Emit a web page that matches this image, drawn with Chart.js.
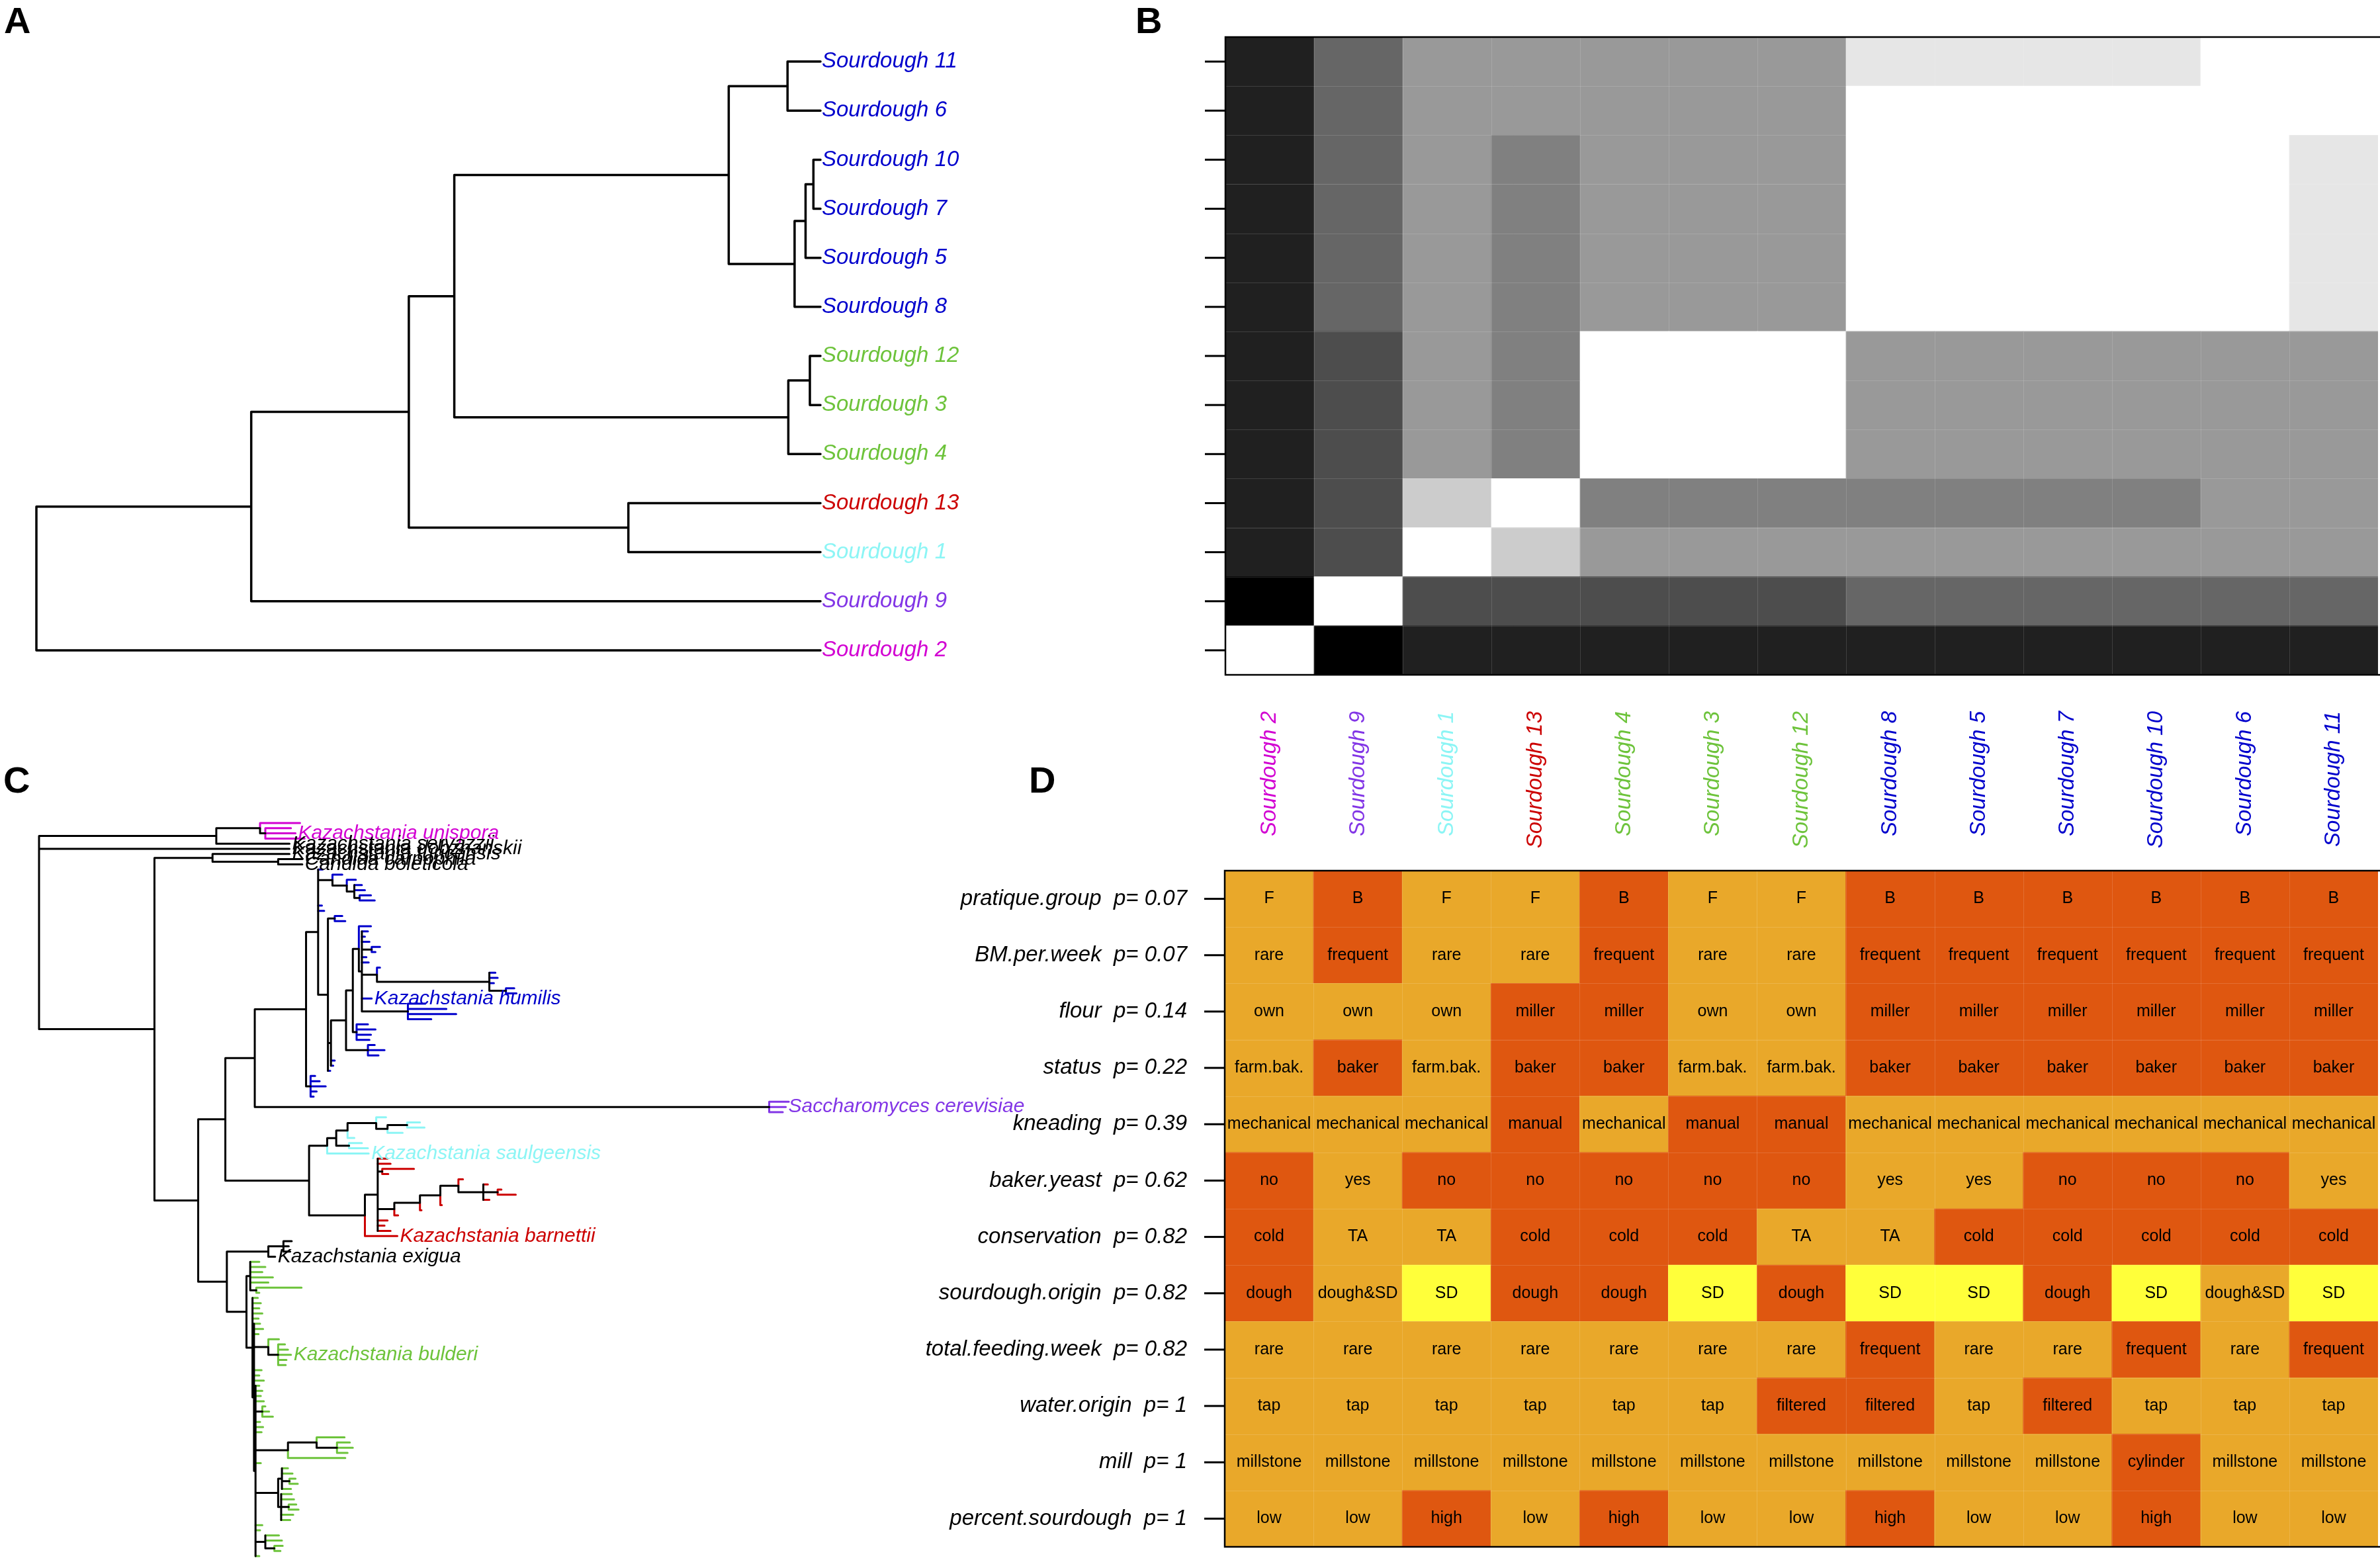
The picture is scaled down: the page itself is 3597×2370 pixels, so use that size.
<!DOCTYPE html>
<html>
<head>
<meta charset="utf-8">
<script src="https://cdn.jsdelivr.net/npm/chart.js@4.4.1/dist/chart.umd.min.js"></script>
<style>
  body { margin: 0; background: #fff; width: 3597px; height: 2370px; overflow: hidden; position: relative; }
  canvas { position: absolute; left: 0; top: 0; }
</style>
</head>
<body>
<canvas id="dendro" width="3597" height="2370"></canvas>
<canvas id="heat" width="3597" height="2370"></canvas>
<canvas id="tree" width="3597" height="2370"></canvas>
<canvas id="traits" width="3597" height="2370"></canvas>
<script>
// ---- data -------------------------------------------------------------
// sample order used for the heatmap columns (left -> right) and rows (bottom -> top)
const samples = ['Sourdough 2', 'Sourdough 9', 'Sourdough 1', 'Sourdough 13', 'Sourdough 4', 'Sourdough 3',
  'Sourdough 12', 'Sourdough 8', 'Sourdough 5', 'Sourdough 7', 'Sourdough 10', 'Sourdough 6', 'Sourdough 11'];
const sampleColors = ['#D200D2', '#8235E6', '#8CF5F5', '#CC0000', '#6DC33B', '#6DC33B', '#6DC33B',
  '#0000CC', '#0000CC', '#0000CC', '#0000CC', '#0000CC', '#0000CC'];

// hierarchical clustering of the sourdoughs, number after ':' = merge height
const sampleClustering = '(Sourdough 2:0,(Sourdough 9:0,((((Sourdough 11:0,Sourdough 6:0):0.042,' +
  '(((Sourdough 10:0,Sourdough 7:0):0.009,Sourdough 5:0):0.019,Sourdough 8:0):0.033):0.117,' +
  '((Sourdough 12:0,Sourdough 3:0):0.0135,Sourdough 4:0):0.041):0.467,' +
  '(Sourdough 13:0,Sourdough 1:0):0.245):0.525):0.726):1';

// pairwise similarity (0 = black, 1 = white), rows/cols in `samples` order
const similarity = [
  [1, 0, .125, .125, .125, .125, .125, .125, .125, .125, .125, .125, .125],
  [0, 1, .3, .3, .3, .3, .3, .4, .4, .4, .4, .4, .4],
  [.125, .3, 1, .8, .6, .6, .6, .6, .6, .6, .6, .6, .6],
  [.125, .3, .8, 1, .5, .5, .5, .5, .5, .5, .5, .6, .6],
  [.125, .3, .6, .5, 1, 1, 1, .6, .6, .6, .6, .6, .6],
  [.125, .3, .6, .5, 1, 1, 1, .6, .6, .6, .6, .6, .6],
  [.125, .3, .6, .5, 1, 1, 1, .6, .6, .6, .6, .6, .6],
  [.125, .4, .6, .5, .6, .6, .6, 1, 1, 1, 1, 1, .9],
  [.125, .4, .6, .5, .6, .6, .6, 1, 1, 1, 1, 1, .9],
  [.125, .4, .6, .5, .6, .6, .6, 1, 1, 1, 1, 1, .9],
  [.125, .4, .6, .5, .6, .6, .6, 1, 1, 1, 1, 1, .9],
  [.125, .4, .6, .6, .6, .6, .6, 1, 1, 1, 1, 1, 1],
  [.125, .4, .6, .6, .6, .6, .6, .9, .9, .9, .9, 1, 1]
];

// bakery practices, one value per sample (same order as `samples`)
const traitNames = ['pratique.group', 'BM.per.week', 'flour', 'status', 'kneading', 'baker.yeast',
  'conservation', 'sourdough.origin', 'total.feeding.week', 'water.origin', 'mill', 'percent.sourdough'];
const pValues = ['0.07', '0.07', '0.14', '0.22', '0.39', '0.62', '0.82', '0.82', '0.82', '1', '1', '1'];

const pratiqueGroup = ['F', 'B', 'F', 'F', 'B', 'F', 'F', 'B', 'B', 'B', 'B', 'B', 'B'];
const bmPerWeek = ['rare', 'frequent', 'rare', 'rare', 'frequent', 'rare', 'rare', 'frequent', 'frequent', 'frequent', 'frequent', 'frequent', 'frequent'];
const flour = ['own', 'own', 'own', 'miller', 'miller', 'own', 'own', 'miller', 'miller', 'miller', 'miller', 'miller', 'miller'];
const status = ['farm.bak.', 'baker', 'farm.bak.', 'baker', 'baker', 'farm.bak.', 'farm.bak.', 'baker', 'baker', 'baker', 'baker', 'baker', 'baker'];
const kneading = ['mechanical', 'mechanical', 'mechanical', 'manual', 'mechanical', 'manual', 'manual', 'mechanical', 'mechanical', 'mechanical', 'mechanical', 'mechanical', 'mechanical'];
const bakerYeast = ['no', 'yes', 'no', 'no', 'no', 'no', 'no', 'yes', 'yes', 'no', 'no', 'no', 'yes'];
const conservation = ['cold', 'TA', 'TA', 'cold', 'cold', 'cold', 'TA', 'TA', 'cold', 'cold', 'cold', 'cold', 'cold'];
const sourdoughOrigin = ['dough', 'dough&SD', 'SD', 'dough', 'dough', 'SD', 'dough', 'SD', 'SD', 'dough', 'SD', 'dough&SD', 'SD'];
const totalFeedingWeek = ['rare', 'rare', 'rare', 'rare', 'rare', 'rare', 'rare', 'frequent', 'rare', 'rare', 'frequent', 'rare', 'frequent'];
const waterOrigin = ['tap', 'tap', 'tap', 'tap', 'tap', 'tap', 'filtered', 'filtered', 'tap', 'filtered', 'tap', 'tap', 'tap'];
const mill = ['millstone', 'millstone', 'millstone', 'millstone', 'millstone', 'millstone', 'millstone', 'millstone', 'millstone', 'millstone', 'cylinder', 'millstone', 'millstone'];
const percentSourdough = ['low', 'low', 'high', 'low', 'high', 'low', 'low', 'high', 'low', 'low', 'high', 'low', 'low'];

// level order of each trait (first level light orange, second dark orange, third yellow)
const traitLevels = [['F', 'B'], ['rare', 'frequent'], ['own', 'miller'], ['farm.bak.', 'baker'],
  ['mechanical', 'manual'], ['yes', 'no'], ['TA', 'cold'], ['dough&SD', 'dough', 'SD'],
  ['rare', 'frequent'], ['tap', 'filtered'], ['millstone', 'cylinder'], ['low', 'high']];

// ITS tree of the yeast isolates, number after ':' = distance from the root
const unisporaClade = '((:0.346,(:0.334,Kazachstania unispora:0.340,:0.352):0.300)unispora:0.293,Kazachstania servazzii:0.332):0.235';
const candidaClade = '(Kazachstania turicensis:0.332,(Candida carpophila:0.349,Candida boleticola:0.349):0.317):0.230';
const humilisClade = '((:0.376,(:0.402,(:0.420,(:0.428,:0.432,(:0.440,:0.445):0.425):0.418):0.408):0.389,:0.375,:0.378,' +
  '((:0.402,:0.406):0.392,((((:0.440,(:0.436,:0.432,:0.438,(:0.452,:0.446):0.441,:0.434,:0.437,' +
  '(:0.452,(:0.605,:0.608,:0.603,(:0.630,:0.633):0.619):0.597):0.448,Kazachstania humilis:0.441,' +
  '(:0.512,:0.540,:0.553,:0.520):0.489):0.428):0.424,(:0.436,:0.446,:0.440,:0.438):0.421):0.416,' +
  '(:0.445,:0.458,:0.450):0.436):0.407,:0.392,:0.390):0.387,:0.386):0.383):0.370,' +
  '(:0.366,:0.372,:0.380,:0.368,:0.364):0.360)humilis:0.354';
const cerevisiaeClade = '(:0.994,Saccharomyces cerevisiae:0.990,:0.986)cerevisiae:0.968';
const saulgeensisClade = '((((:0.460,((:0.505,:0.511):0.488,:0.482):0.462):0.447,:0.418):0.409,(:0.428,:0.436):0.411):0.394,' +
  'Kazachstania saulgeensis:0.437)saulgeensis:0.382';
const barnettiiClade = '((:0.462,:0.466,(:0.497,:0.463):0.455,((((:0.562,(:0.595,(:0.613,:0.632):0.608,:0.597):0.589):0.556,' +
  ':0.534):0.532,:0.507):0.505,:0.476):0.471,:0.462,:0.458,:0.466):0.449,Kazachstania barnettii:0.475)barnettii:0.432';
const exiguaClade = '((:0.335,:0.331,:0.333):0.324,Kazachstania exigua:0.313):0.304';
const bulderiClade = '((:0.292,:0.300,:0.296,:0.310,:0.304,(:0.348,:0.292):0.288):0.280,' +
  '(:0.290,:0.294,:0.292,:0.296,:0.291,(:0.293,:0.297,:0.291,' +
  '(:0.318,(:0.326,:0.330,Kazachstania bulderi:0.334,:0.328,:0.327):0.317):0.304,:0.295,:0.292,:0.298,' +
  '(:0.292,:0.296,:0.294,:0.298,(:0.300,:0.305,:0.310):0.296,:0.293,:0.297,:0.295,' +
  '((:0.405,(:0.412,:0.416,:0.409):0.395):0.368,:0.406):0.330,:0.294,' +
  '((:0.330,:0.336,(:0.340,:0.343):0.332,:0.334):0.322,(:0.335,:0.338,(:0.341,:0.344):0.331,:0.337,:0.333):0.321):0.317,' +
  ':0.296,:0.293,(:0.318,:0.322,(:0.323,:0.320):0.312):0.300,:0.292):0.287):0.285):0.283)bulderi:0.275';

const yeastTree = '(' + unisporaClade + ',Kazachstania dobzhanskii:0.332,(' + candidaClade + ',(((' +
  humilisClade + ',' + cerevisiaeClade + '):0.286,(' + saulgeensisClade + ',' + barnettiiClade + '):0.358):0.247,(' +
  exiguaClade + ',' + bulderiClade + '):0.249):0.211):0.153);';

const cladeColors = { unispora: '#D200D2', humilis: '#0000CC', cerevisiae: '#8235E6',
  saulgeensis: '#8CF5F5', barnettii: '#CC0000', bulderi: '#6DC33B' };
const levelColors = ['#E9A82A', '#DF5710', '#FFFF3A'];

// ---- helpers ------------------------------------------------------------
const W = 3597, H = 2370;
const FONT = '"Liberation Sans", Arial, Helvetica, sans-serif';

function parseNewick(s) {
  let i = 0;
  function node() {
    const n = { children: [], name: '', value: 0 };
    if (s[i] === '(') {
      i++;
      n.children.push(node());
      while (s[i] === ',') { i++; n.children.push(node()); }
      i++;
    }
    let name = '';
    while (i < s.length && !',():;'.includes(s[i])) name += s[i++];
    n.name = name.trim();
    if (s[i] === ':') {
      i++;
      let num = '';
      while (i < s.length && !',();'.includes(s[i])) num += s[i++];
      n.value = parseFloat(num);
    }
    return n;
  }
  return node();
}

function greyOf(v) {
  const g = Math.round(v * 255);
  return `rgb(${g},${g},${g})`;
}

function lineSet(points, color, width) {
  return {
    data: points, borderColor: color, borderWidth: width, pointRadius: 0,
    fill: false, tension: 0, spanGaps: false, clip: false,
    borderCapStyle: 'round', borderJoinStyle: 'miter'
  };
}

const baseOptions = {
  responsive: false, animation: false, devicePixelRatio: 1, events: [],
  plugins: { legend: { display: false }, tooltip: { enabled: false } }
};

// ---- A: dendrogram ------------------------------------------------------
const clusterRoot = parseNewick(sampleClustering);
const dendroPoints = [];
(function walk(n) {
  if (!n.children.length) { n.y = samples.indexOf(n.name); return; }
  n.children.forEach(walk);
  const ys = n.children.map(c => c.y);
  const lo = Math.min(...ys), hi = Math.max(...ys);
  n.y = (lo + hi) / 2;
  dendroPoints.push({ x: n.value, y: lo }, { x: n.value, y: hi }, { x: n.value, y: null });
  n.children.forEach(c => dendroPoints.push({ x: n.value, y: c.y }, { x: c.value, y: c.y }, { x: c.value, y: null }));
})(clusterRoot);

new Chart(document.getElementById('dendro'), {
  type: 'line',
  data: { datasets: [lineSet(dendroPoints, '#000', 3.5)] },
  options: {
    ...baseOptions,
    layout: { padding: { left: 55, right: W - 1240, top: 56, bottom: H - 1020 } },
    scales: {
      x: { type: 'linear', min: 0, max: 1, reverse: true, display: false },
      y: { type: 'linear', min: -0.5, max: samples.length - 0.5, display: false }
    }
  },
  plugins: [{
    id: 'dendroLabels',
    afterDraw(chart) {
      const { ctx, scales: { x, y } } = chart;
      ctx.save();
      ctx.font = `italic 33px ${FONT}`;
      ctx.textBaseline = 'middle';
      samples.forEach((s, i) => {
        ctx.fillStyle = sampleColors[i];
        ctx.fillText(s, x.getPixelForValue(0) + 2, y.getPixelForValue(i));
      });
      ctx.fillStyle = '#000';
      ctx.font = `bold 56px ${FONT}`;
      ctx.textBaseline = 'alphabetic';
      ctx.fillText('A', 6, 50);
      ctx.fillText('B', 1716, 50);
      ctx.fillText('C', 5, 1198);
      ctx.fillText('D', 1555, 1198);
      ctx.restore();
    }
  }]
});

// ---- shared frame, faint cell separators and row ticks -----------------
function frameAndTicks(chart, nRows, nCols) {
  const { ctx, chartArea: a, scales: { x, y } } = chart;
  ctx.save();
  ctx.strokeStyle = 'rgba(255,255,255,0.14)';
  ctx.lineWidth = 1;
  ctx.beginPath();
  for (let c = 1; c < nCols; c++) {
    const px = Math.round((x.getPixelForValue(c - 1) + x.getPixelForValue(c)) / 2) + 0.5;
    ctx.moveTo(px, a.top); ctx.lineTo(px, a.bottom);
  }
  for (let r = 1; r < nRows; r++) {
    const py = Math.round(y.getPixelForValue(r)) + 0.5;
    ctx.moveTo(a.left, py); ctx.lineTo(a.right, py);
  }
  ctx.stroke();
  ctx.strokeStyle = '#000';
  ctx.lineWidth = 3;
  for (let r = 0; r < nRows; r++) {
    const py = y.getPixelForValue(r + 0.5);
    ctx.beginPath(); ctx.moveTo(a.left - 31, py); ctx.lineTo(a.left, py); ctx.stroke();
  }
  ctx.lineWidth = 2.5;
  ctx.beginPath();
  ctx.moveTo(W, a.top); ctx.lineTo(a.left, a.top); ctx.lineTo(a.left, a.bottom); ctx.lineTo(W, a.bottom);
  ctx.stroke();
  ctx.restore();
}

// ---- B: similarity heatmap ----------------------------------------------
new Chart(document.getElementById('heat'), {
  type: 'bar',
  data: {
    labels: samples,
    datasets: samples.map((name, r) => ({
      label: name,
      data: samples.map(() => 1),
      backgroundColor: similarity[r].map(greyOf),
      borderWidth: 0,
      categoryPercentage: 1, barPercentage: 1
    }))
  },
  options: {
    ...baseOptions,
    layout: { padding: { left: 1852, right: W - 3594, top: 56, bottom: H - 1020 } },
    scales: {
      x: { stacked: true, display: false },
      y: { stacked: true, display: false, min: 0, max: samples.length }
    }
  },
  plugins: [{
    id: 'heatDecor',
    afterDraw(chart) {
      frameAndTicks(chart, samples.length, samples.length);
      const { ctx, chartArea: a, scales: { x } } = chart;
      ctx.save();
      ctx.font = `italic 33px ${FONT}`;
      ctx.textAlign = 'right';
      ctx.textBaseline = 'middle';
      samples.forEach((s, c) => {
        ctx.save();
        ctx.translate(x.getPixelForValue(c), a.bottom + 55);
        ctx.rotate(-Math.PI / 2);
        ctx.fillStyle = sampleColors[c];
        ctx.fillText(s, 0, 0);
        ctx.restore();
      });
      ctx.restore();
    }
  }]
});

// ---- C: yeast tree ----------------------------------------------------
const treeRoot = parseNewick(yeastTree);
let tipCount = 0;
const namedTips = [];
(function layout(n, tag) {
  if (n.children.length && n.name) tag = n.name;
  n.tag = tag;
  if (!n.children.length) {
    n.y = tipCount++;
    if (n.name) namedTips.push(n);
    return;
  }
  n.children.forEach(c => layout(c, tag));
  n.y = (n.children[0].y + n.children[n.children.length - 1].y) / 2;
})(treeRoot, null);

const edgeColor = n => n.children.length ? '#000' : (cladeColors[n.tag] || '#000');
const treeSegs = {};
function addSeg(color, x0, y0, x1, y1) {
  (treeSegs[color] = treeSegs[color] || []).push({ x: x0, y: y0 }, { x: x1, y: y1 }, { x: x1, y: null });
}
(function edges(n) {
  if (!n.children.length) return;
  const cols = n.children.map(edgeColor);
  const ys = n.children.map(c => c.y);
  if (n.children.length === 2 && cols[0] !== cols[1]) {
    addSeg(cols[0], n.value, ys[0], n.value, n.y);
    addSeg(cols[1], n.value, n.y, n.value, ys[1]);
  } else {
    const same = cols.every(c => c === cols[0]);
    addSeg(same ? cols[0] : '#000', n.value, Math.min(...ys), n.value, Math.max(...ys));
  }
  n.children.forEach((c, k) => addSeg(cols[k], n.value, c.y, c.value, c.y));
  n.children.forEach(edges);
})(treeRoot);

new Chart(document.getElementById('tree'), {
  type: 'line',
  data: { datasets: Object.keys(treeSegs).map(col => lineSet(treeSegs[col], col, 3)) },
  options: {
    ...baseOptions,
    layout: { padding: { left: 59, right: W - 1199, top: 1244, bottom: H - 2352 } },
    scales: {
      x: { type: 'linear', min: 0, max: 1, display: false },
      y: { type: 'linear', min: 0, max: tipCount - 1, reverse: true, display: false }
    }
  },
  plugins: [{
    id: 'tipLabels',
    afterDraw(chart) {
      const { ctx, scales: { x, y } } = chart;
      ctx.save();
      ctx.font = `italic 30px ${FONT}`;
      ctx.textBaseline = 'middle';
      namedTips.forEach(t => {
        ctx.fillStyle = cladeColors[t.tag] || '#000';
        ctx.fillText(t.name, x.getPixelForValue(t.value) + 4, y.getPixelForValue(t.y));
      });
      ctx.restore();
    }
  }]
});

// ---- D: bakery practices ------------------------------------------------
const traitValues = [pratiqueGroup, bmPerWeek, flour, status, kneading, bakerYeast, conservation,
  sourdoughOrigin, totalFeedingWeek, waterOrigin, mill, percentSourdough];
const nTraits = traitNames.length;
const traitDatasets = [];
for (let k = nTraits - 1; k >= 0; k--) {
  traitDatasets.push({
    label: traitNames[k],
    data: traitValues[k].map(() => 1),
    backgroundColor: traitValues[k].map(v => levelColors[traitLevels[k].indexOf(v)]),
    borderWidth: 0,
    categoryPercentage: 1, barPercentage: 1
  });
}

new Chart(document.getElementById('traits'), {
  type: 'bar',
  data: { labels: samples, datasets: traitDatasets },
  options: {
    ...baseOptions,
    layout: { padding: { left: 1851, right: W - 3594, top: 1316, bottom: H - 2338 } },
    scales: {
      x: { stacked: true, display: false },
      y: { stacked: true, display: false, min: 0, max: nTraits }
    }
  },
  plugins: [{
    id: 'traitDecor',
    afterDraw(chart) {
      frameAndTicks(chart, nTraits, samples.length);
      const { ctx, chartArea: a, scales: { x, y } } = chart;
      ctx.save();
      ctx.textBaseline = 'middle';
      ctx.fillStyle = '#000';
      ctx.font = `25px ${FONT}`;
      ctx.textAlign = 'center';
      traitValues.forEach((vals, k) => {
        const py = y.getPixelForValue(nTraits - k - 0.5);
        vals.forEach((v, c) => ctx.fillText(v, x.getPixelForValue(c), py));
      });
      ctx.font = `italic 33px ${FONT}`;
      ctx.textAlign = 'right';
      traitNames.forEach((t, k) => {
        ctx.fillText(`${t}  p= ${pValues[k]}`, a.left - 57, y.getPixelForValue(nTraits - k - 0.5));
      });
      ctx.restore();
    }
  }]
});
</script>
</body>
</html>
